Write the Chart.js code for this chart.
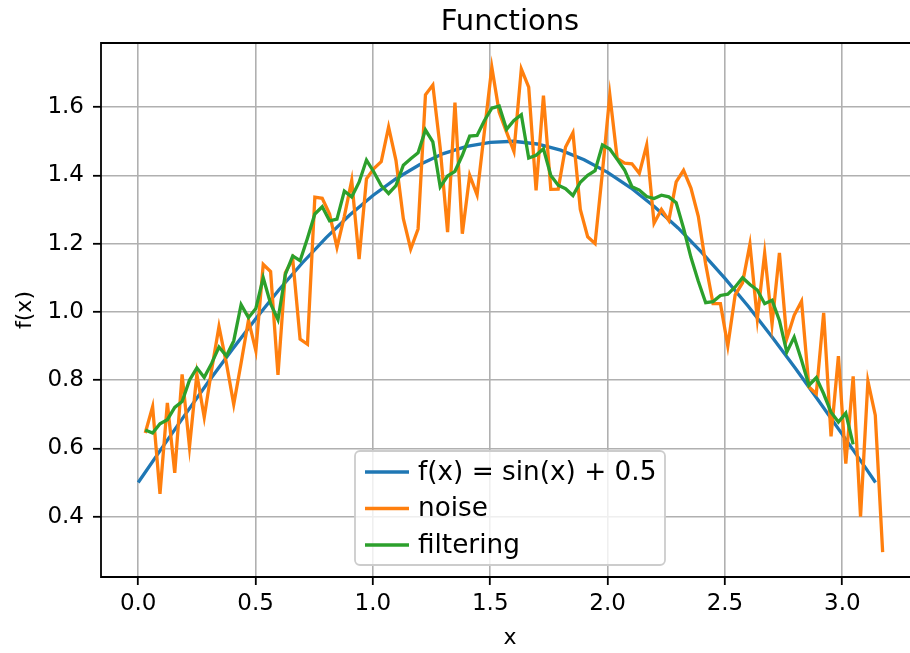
<!DOCTYPE html>
<html>
<head>
<meta charset="utf-8">
<script src="https://cdn.jsdelivr.net/npm/chart.js@4"></script>
<style>
  html, body { margin: 0; padding: 0; background: #fff; overflow: hidden; }
  #wrap { position: absolute; left: 0; top: 0; width: 910px; height: 653px; }
</style>
</head>
<body>
<div id="wrap"><canvas id="funcChart" width="910" height="653"></canvas></div>
<script>
const chartTitle = 'Functions';
const xLabel = 'x';
const seriesNames = ['f(x) = sin(x) + 0.5', 'noise', 'filtering'];
const seriesColors = ['#1f77b4', '#ff7f0e', '#2ca02c'];

// smooth curve, read every 0.1 on x (last point at pi)
const curveX = [0.0, 0.1, 0.2, 0.3, 0.4, 0.5, 0.6, 0.7, 0.8, 0.9, 1.0, 1.1, 1.2, 1.3, 1.4, 1.5, 1.6,
    1.7, 1.8, 1.9, 2.0, 2.1, 2.2, 2.3, 2.4, 2.5, 2.6, 2.7, 2.8, 2.9, 3.0, 3.1, 3.1416];
const curveY = [0.500, 0.600, 0.699, 0.796, 0.889, 0.979, 1.065, 1.144, 1.217, 1.283, 1.341, 1.391,
    1.432, 1.464, 1.485, 1.497, 1.500, 1.492, 1.474, 1.446, 1.409, 1.363, 1.308, 1.246, 1.175,
    1.098, 1.016, 0.927, 0.835, 0.739, 0.641, 0.542, 0.500];

// noisy samples, evenly spaced from x0 with step dx
const sampleX0 = 0.03;
const sampleDX = 0.03142;
const noiseY = [
    0.645, 0.722, 0.467, 0.733, 0.528, 0.817, 0.604, 0.817, 0.691, 0.830,
    0.957, 0.850, 0.729, 0.850, 0.976, 0.886, 1.139, 1.118, 0.815, 1.115,
    1.155, 0.920, 0.905, 1.336, 1.333, 1.287, 1.189, 1.280, 1.385, 1.155,
    1.390, 1.420, 1.440, 1.542, 1.444, 1.273, 1.184, 1.243, 1.636, 1.665,
    1.480, 1.234, 1.613, 1.229, 1.400, 1.343, 1.530, 1.717, 1.585, 1.527,
    1.470, 1.712, 1.659, 1.356, 1.634, 1.359, 1.360, 1.483, 1.525, 1.300,
    1.220, 1.200, 1.410, 1.636, 1.450, 1.436, 1.434, 1.406, 1.489, 1.260,
    1.300, 1.268, 1.381, 1.415, 1.363, 1.280, 1.140, 1.024, 1.024, 0.900,
    1.050, 1.085, 1.198, 0.980, 1.172, 0.964, 1.173, 0.921, 0.990, 1.031,
    0.780, 0.760, 0.997, 0.635, 0.870, 0.555, 0.811, 0.400, 0.797, 0.697,
    0.296
];
const filterY = [
    0.654, 0.645, 0.672, 0.684, 0.720, 0.737, 0.800, 0.836, 0.808, 0.849,
    0.897, 0.871, 0.915, 1.021, 0.983, 1.010, 1.100, 1.024, 0.977, 1.110,
    1.164, 1.150, 1.216, 1.287, 1.308, 1.267, 1.272, 1.354, 1.337, 1.380,
    1.445, 1.410, 1.370, 1.347, 1.370, 1.430, 1.449, 1.466, 1.533, 1.498,
    1.366, 1.398, 1.412, 1.459, 1.515, 1.517, 1.561, 1.597, 1.603, 1.535,
    1.561, 1.578, 1.451, 1.459, 1.478, 1.400, 1.371, 1.361, 1.341, 1.380,
    1.400, 1.414, 1.489, 1.477, 1.447, 1.416, 1.367, 1.357, 1.338, 1.332,
    1.342, 1.337, 1.320, 1.245, 1.160, 1.090, 1.027, 1.030, 1.048, 1.052,
    1.073, 1.100, 1.080, 1.064, 1.024, 1.034, 0.975, 0.882, 0.926, 0.858,
    0.785, 0.807, 0.760, 0.706, 0.677, 0.703, 0.612
];

const xTicks = [0.0, 0.5, 1.0, 1.5, 2.0, 2.5, 3.0];
const yTicks = [0.4, 0.6, 0.8, 1.0, 1.2, 1.4, 1.6];

const toPoints = (ys) => ys.map((y, i) => ({ x: sampleX0 + i * sampleDX, y: y }));

// axes spines (right one falls outside the picture) drawn above the lines
const frame = {
    id: 'frame',
    afterDatasetsDraw(chart) {
        const { ctx, chartArea: a } = chart;
        ctx.save();
        ctx.strokeStyle = '#000';
        ctx.lineWidth = 1.8;
        ctx.beginPath();
        ctx.moveTo(a.right + 2, a.top);
        ctx.lineTo(a.left, a.top);
        ctx.lineTo(a.left, a.bottom);
        ctx.lineTo(a.right + 2, a.bottom);
        ctx.stroke();
        ctx.restore();
    }
};

// title and x label centred over the full axes (which run past the right edge)
const axesText = {
    id: 'axesText',
    afterDraw(chart) {
        const { ctx, chartArea: a } = chart;
        const cx = a.left + 409;
        ctx.save();
        ctx.fillStyle = '#000';
        ctx.textAlign = 'center';
        ctx.textBaseline = 'middle';
        ctx.font = '29px "DejaVu Sans"';
        ctx.fillText(chartTitle, cx, a.top - 21);
        ctx.font = '22px "DejaVu Sans"';
        ctx.fillText(xLabel, cx, 638);
        ctx.restore();
    }
};

// matplotlib style legend box
const legendBox = {
    id: 'legendBox',
    afterDraw(chart) {
        const { ctx, chartArea: a } = chart;
        const x = a.left + 254, y = a.bottom - 126, w = 310, h = 114, r = 5;
        ctx.save();
        ctx.beginPath();
        ctx.roundRect(x, y, w, h, r);
        ctx.fillStyle = 'rgba(255,255,255,0.8)';
        ctx.fill();
        ctx.strokeStyle = '#cccccc';
        ctx.lineWidth = 1.8;
        ctx.stroke();
        ctx.font = '26.3px "DejaVu Sans"';
        ctx.textBaseline = 'middle';
        ctx.fillStyle = '#000';
        chart.data.datasets.forEach((ds, i) => {
            const cy = y + 21 + i * 36.5;
            ctx.beginPath();
            ctx.moveTo(x + 10, cy);
            ctx.lineTo(x + 54, cy);
            ctx.strokeStyle = ds.borderColor;
            ctx.lineWidth = 3.3;
            ctx.stroke();
            ctx.fillText(ds.label, x + 63, cy + 1);
        });
        ctx.restore();
    }
};

function initChart() {
    const ctx = document.getElementById('funcChart').getContext('2d');
    Chart.defaults.font.family = '"DejaVu Sans"';
    Chart.defaults.font.size = 22;
    Chart.defaults.color = '#000';

    new Chart(ctx, {
        type: 'line',
        data: {
            datasets: [{
                label: seriesNames[0],
                data: curveX.map((x, i) => ({ x: x, y: curveY[i] })),
                borderColor: seriesColors[0],
                order: 3
            }, {
                label: seriesNames[1],
                data: toPoints(noiseY),
                borderColor: seriesColors[1],
                order: 2
            }, {
                label: seriesNames[2],
                data: toPoints(filterY),
                borderColor: seriesColors[2],
                order: 1
            }]
        },
        options: {
            responsive: false,
            animation: false,
            devicePixelRatio: 1,
            layout: { padding: { left: 0, right: 0, top: 43, bottom: 0 } },
            elements: {
                point: { radius: 0 },
                line: { borderWidth: 3.3, tension: 0 }
            },
            plugins: {
                legend: { display: false },
                tooltip: { enabled: false },
                title: { display: false }
            },
            scales: {
                x: {
                    type: 'linear',
                    min: -0.1585,
                    max: 3.2885,
                    afterBuildTicks: s => { s.ticks = xTicks.map(v => ({ value: v })); },
                    afterFit: s => { s.height = 76; },
                    ticks: { callback: v => v.toFixed(1), padding: 5, maxRotation: 0, font: { size: 23 } },
                    grid: { color: '#b0b0b0', lineWidth: 1.6, tickLength: 8, tickColor: '#000', tickWidth: 1.8 },
                    border: { display: false }
                },
                y: {
                    min: 0.223,
                    max: 1.788,
                    afterBuildTicks: s => { s.ticks = yTicks.map(v => ({ value: v })); },
                    afterFit: s => { s.width = 101; },
                    ticks: { callback: v => v.toFixed(1), padding: 9, font: { size: 23 } },
                    grid: { color: '#b0b0b0', lineWidth: 1.6, tickLength: 8, tickColor: '#000', tickWidth: 1.8 },
                    border: { display: false },
                    title: { display: true, text: 'f(x)', padding: { top: 12, bottom: 0 } }
                }
            }
        },
        plugins: [frame, axesText, legendBox]
    });
}

initChart();
</script>
</body>
</html>
